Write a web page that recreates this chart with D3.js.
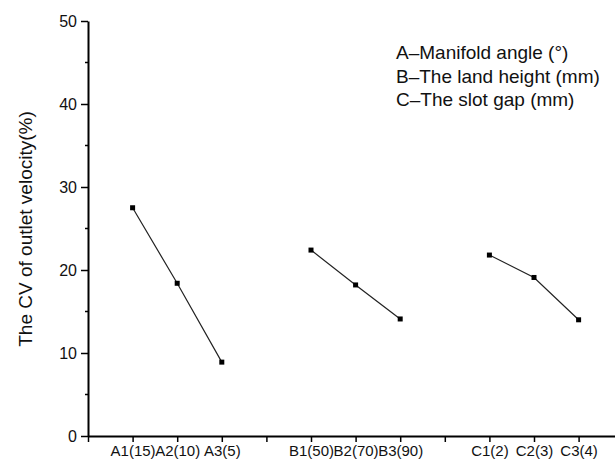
<!DOCTYPE html>
<html>
<head>
<meta charset="utf-8">
<script src="https://cdn.jsdelivr.net/npm/d3@7"></script>
<style>
  body { margin: 0; background: #fff; }
  svg { display: block; font-family: Arial, "Liberation Sans", sans-serif; }
</style>
</head>
<body>
<svg id="chart" width="615" height="466"></svg>
<script>
// Categories (slot positions 1..11, 4 and 8 are empty gaps)
const categories = ["", "A1(15)", "A2(10)", "A3(5)", "", "B1(50)", "B2(70)", "B3(90)", "", "C1(2)", "C2(3)", "C3(4)"];
const groupA = [["A1(15)", 27.5], ["A2(10)", 18.4], ["A3(5)", 8.9]];
const groupB = [["B1(50)", 22.4], ["B2(70)", 18.2], ["B3(90)", 14.1]];
const groupC = [["C1(2)", 21.8], ["C2(3)", 19.1], ["C3(4)", 14.0]];
const yTicks = [0, 10, 20, 30, 40, 50];
const legendLines = ["A\u2013Manifold angle (\u00b0)", "B\u2013The land height (mm)", "C\u2013The slot gap (mm)"];

const svg = d3.select("#chart");
const margin = { left: 88, top: 21 };
const y0 = 436;

const x = d3.scaleLinear().domain([0, 12]).range([margin.left, margin.left + 12 * 44.6]);
const y = d3.scaleLinear().domain([0, 50]).range([y0, margin.top]);
const pos = name => categories.indexOf(name);

// Y axis
const yAxis = svg.append("g")
    .attr("transform", `translate(${margin.left},0)`)
    .call(d3.axisLeft(y).tickValues(yTicks).tickSize(7).tickSizeOuter(0));
yAxis.select(".domain").attr("stroke-width", 2);
yAxis.selectAll(".tick line").attr("stroke-width", 1.5);
yAxis.selectAll(".tick text").attr("font-size", 16).attr("x", -11).attr("fill", "#111");

// minor y ticks
svg.append("g").selectAll("line")
    .data(d3.range(5, 50, 10))
    .enter().append("line")
    .attr("x1", margin.left - 3).attr("x2", margin.left)
    .attr("y1", d => y(d)).attr("y2", d => y(d))
    .attr("stroke", "#000").attr("stroke-width", 1.5);

// X axis
const xAxis = svg.append("g")
    .attr("transform", `translate(0,${y0})`)
    .call(d3.axisBottom(x).tickValues(d3.range(0, 12)).tickSize(6).tickSizeOuter(0)
        .tickFormat(i => categories[i]));
xAxis.select(".domain").attr("stroke-width", 2);
xAxis.selectAll(".tick line").attr("stroke-width", 1.5);
xAxis.selectAll(".tick text").attr("font-size", 15).attr("y", 9).attr("fill", "#111");

// Y axis label
svg.append("text")
    .attr("transform", `translate(32,${229}) rotate(-90)`)
    .attr("text-anchor", "middle")
    .attr("font-size", 19)
    .attr("fill", "#111")
    .text("The CV of outlet velocity(%)");

// Lines and markers
const line = d3.line()
    .x(d => x(pos(d[0])))
    .y(d => y(d[1]));

[groupA, groupB, groupC].forEach(series => {
    svg.append("path")
        .datum(series)
        .attr("fill", "none")
        .attr("stroke", "#222")
        .attr("stroke-width", 1.2)
        .attr("d", line);

    svg.selectAll(null)
        .data(series)
        .enter().append("rect")
        .attr("x", d => x(pos(d[0])) - 2.5)
        .attr("y", d => y(d[1]) - 2.5)
        .attr("width", 5)
        .attr("height", 5)
        .attr("fill", "#000");
});

// Legend text
svg.append("g").selectAll("text")
    .data(legendLines)
    .enter().append("text")
    .attr("x", 396)
    .attr("y", (d, i) => 59 + i * 23.5)
    .attr("font-size", 19)
    .attr("fill", "#111")
    .text(d => d);
</script>
</body>
</html>
